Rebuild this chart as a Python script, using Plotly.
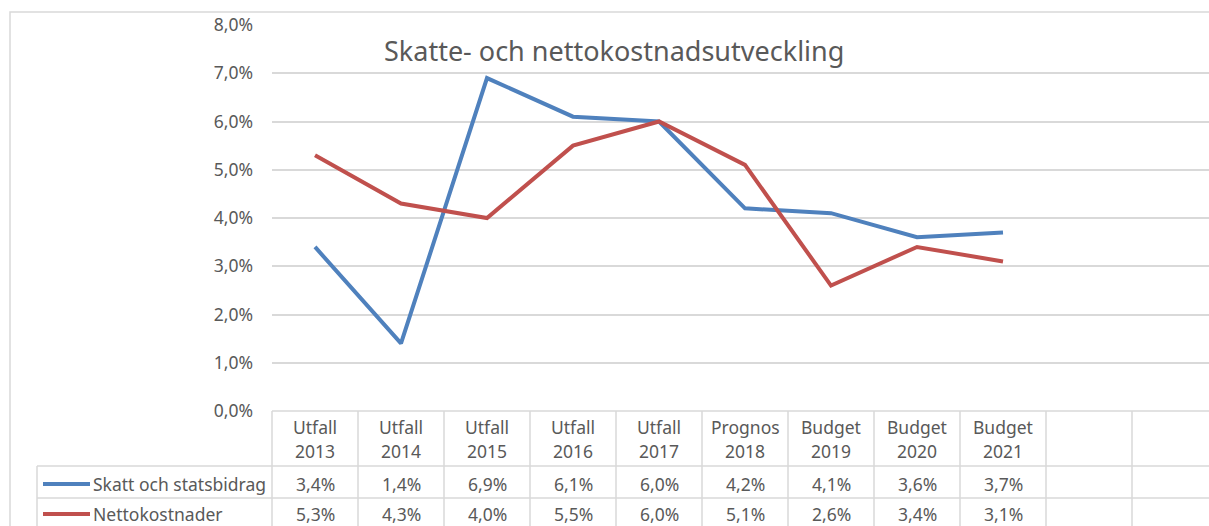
import plotly.graph_objects as go

# ---------------- data ----------------
cat_type = ["Utfall", "Utfall", "Utfall", "Utfall", "Utfall", "Prognos", "Budget", "Budget", "Budget"]
cat_year = ["2013", "2014", "2015", "2016", "2017", "2018", "2019", "2020", "2021"]
categories = [f"{t} {y}" for t, y in zip(cat_type, cat_year)]
extra_cols = ["", " "]  # two empty columns shown in the data table

skatt = [3.4, 1.4, 6.9, 6.1, 6.0, 4.2, 4.1, 3.6, 3.7]
netto = [5.3, 4.3, 4.0, 5.5, 6.0, 5.1, 2.6, 3.4, 3.1]

series_names = ["Skatt och statsbidrag", "Nettokostnader"]
series_vals = [skatt, netto]
series_colors = ["#4F81BD", "#C0504D"]

y_ticks = [0, 0.01, 0.02, 0.03, 0.04, 0.05, 0.06, 0.07, 0.08]

# ---------------- layout geometry (pixels) ----------------
W, H = 1209, 526
L, R, T, B = 272, 0, 25, 115
PLOT_W = W - L - R
PLOT_H = H - T - B
COL_W = 86
n_cols = len(categories) + len(extra_cols)
x_range = [-0.5, -0.5 + PLOT_W / COL_W]

def xp(px):
    return (px - L) / PLOT_W

def yp(py):
    return (H - B - py) / PLOT_H

grid_col = "#d9d9d9"
text_col = "#595959"
font_fam = "Noto Sans"
FS = 17.5

fig = go.Figure()
for name, vals, col in zip(series_names, series_vals, series_colors):
    fig.add_trace(go.Scatter(
        x=categories, y=[v / 100 for v in vals], mode="lines", name=name,
        line=dict(color=col, width=4), showlegend=False,
    ))

shapes = []
annotations = []

def text(px, py, s, size=FS, xanchor="center"):
    annotations.append(dict(x=xp(px), y=yp(py), xref="paper", yref="paper", text=s,
                            xanchor=xanchor, yanchor="middle", showarrow=False,
                            font=dict(size=size, color=text_col, family=font_fam)))

def hline(x0, x1, y, color=grid_col, width=1.5):
    shapes.append(dict(type="line", xref="paper", yref="paper",
                       x0=xp(x0), x1=xp(x1), y0=yp(y), y1=yp(y),
                       line=dict(color=color, width=width)))

def vline(x, y0, y1):
    shapes.append(dict(type="line", xref="paper", yref="paper",
                       x0=xp(x), x1=xp(x), y0=yp(y0), y1=yp(y1),
                       line=dict(color=grid_col, width=1.5)))

# outer chart border
shapes.append(dict(type="rect", xref="paper", yref="paper",
                   x0=xp(10), x1=xp(W + 20), y0=yp(12), y1=yp(H + 20),
                   line=dict(color=grid_col, width=1.5), layer="below"))

# data table geometry
y_head_top, y_row1_top, y_row2_top, y_bottom = 411, 466, 498, 540
x_label_left = 37
col_edges = [L + COL_W * k for k in range(n_cols + 1)]

hline(L, W + 20, y_head_top)
for yy in (y_row1_top, y_row2_top):
    hline(x_label_left, W + 20, yy)
for xe in col_edges:
    vline(xe, y_head_top, y_bottom)
vline(x_label_left, y_row1_top, y_bottom)

# header texts
for i, (t, yr) in enumerate(zip(cat_type, cat_year)):
    cx = L + COL_W * (i + 0.5)
    text(cx, 427, t)
    text(cx, 451, yr)

# rows
row_centers = [484, 514]
for name, vals, col, ry in zip(series_names, series_vals, series_colors, row_centers):
    hline(43, 90, ry, color=col, width=4)
    text(91, ry, name, xanchor="left")
    for i, v in enumerate(vals):
        cx = L + COL_W * (i + 0.5)
        text(cx, ry, f"{v:.1f}%".replace(".", ","))

# title
text(614, 50, "Skatte- och nettokostnadsutveckling", size=27)

fig.update_layout(
    width=W, height=H,
    margin=dict(l=L, r=R, t=T, b=B),
    paper_bgcolor="white", plot_bgcolor="white",
    separators=", ",
    shapes=shapes, annotations=annotations,
    xaxis=dict(type="category", categoryorder="array",
               categoryarray=categories + extra_cols,
               range=x_range, showticklabels=False, showgrid=False,
               zeroline=False, showline=False, ticks=""),
    yaxis=dict(range=[0, 0.08], tickvals=y_ticks, tickformat=".1%",
               showgrid=True, gridcolor=grid_col, gridwidth=1.5,
               zeroline=False, showline=False, ticks="",
               ticklabelstandoff=18,
               tickfont=dict(size=FS, color=text_col, family=font_fam)),
    font=dict(family=font_fam, color=text_col),
)

fig.write_html("out.html", config={"displayModeBar": False},
               post_script="document.body.style.margin='0px';document.body.style.overflow='hidden';")
